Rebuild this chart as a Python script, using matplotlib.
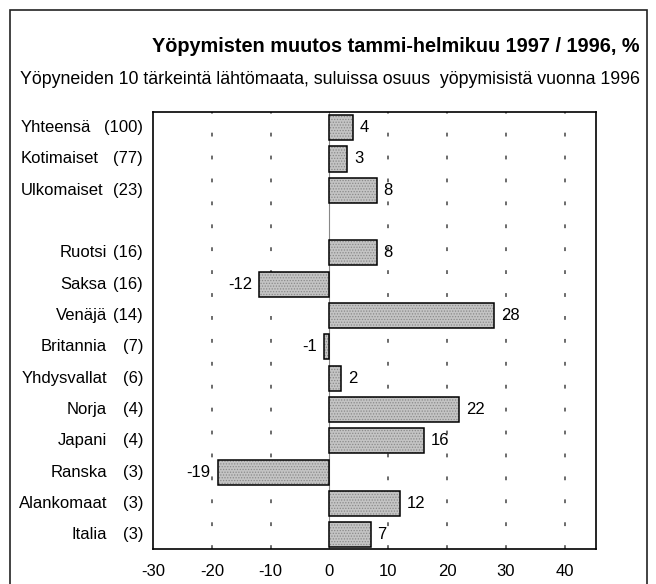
import numpy as np
import matplotlib
matplotlib.use('Agg')
from matplotlib import pyplot as plt
from matplotlib import transforms
from matplotlib.patches import Rectangle

# data
top_names = ['Yhteensä', 'Kotimaiset', 'Ulkomaiset']
top_shares = ['(100)', '(77)', '(23)']
top_values = [4, 3, 8]

country_names = ['Ruotsi', 'Saksa', 'Venäjä', 'Britannia', 'Yhdysvallat',
                 'Norja', 'Japani', 'Ranska', 'Alankomaat', 'Italia']
country_shares = ['(16)', '(16)', '(14)', '(7)', '(6)', '(4)', '(4)', '(3)', '(3)', '(3)']
country_values = [8, -12, 28, -1, 2, 22, 16, -19, 12, 7]

x_ticks = [-30, -20, -10, 0, 10, 20, 30, 40]

plt.rcParams['font.family'] = ['Liberation Sans', 'DejaVu Sans']
plt.rcParams['hatch.linewidth'] = 0.6
fs = 12

fig = plt.figure(figsize=(6.56, 5.84), dpi=100)
ax = fig.add_axes([153 / 656, 1 - 549 / 584, (596 - 153) / 656, (549 - 112) / 584])

y_top = np.arange(len(top_names))
y_cnt = np.arange(len(country_names)) + len(top_names) + 1
ys = np.concatenate([y_top, y_cnt])
vals = top_values + country_values

# dotted guide lines
for gx in [-20, -10, 10, 20, 30, 40]:
    ax.axvline(gx, color='#444444', lw=1.1, dashes=(2.5, 12.5), zorder=0)
ax.axvline(0, color='#888888', lw=0.8, zorder=1)

ax.barh(ys, vals, height=0.8, color='#c4c4c4', edgecolor='none', zorder=2)
ax.barh(ys, vals, height=0.8, fill=False, edgecolor='#8a8a8a', lw=0, hatch='......', zorder=3)
ax.barh(ys, vals, height=0.8, fill=False, edgecolor='black', lw=1.1, zorder=4)

for y, v in zip(ys, vals):
    if v >= 0:
        ax.annotate(str(v), (v, y), xytext=(5, 0), textcoords='offset points',
                    ha='left', va='center', fontsize=fs)
    else:
        ax.annotate(str(v), (v, y), xytext=(-5, 0), textcoords='offset points',
                    ha='right', va='center', fontsize=fs)

ax.set_xlim(-30, 45.3)
ax.set_ylim(13.45, -0.5)
ax.set_xticks(x_ticks)
ax.set_xticklabels([str(t) for t in x_ticks], fontsize=fs)
ax.tick_params(axis='x', length=0, pad=11)
ax.set_yticks([])
for s in ax.spines.values():
    s.set_linewidth(1.2)

# row labels
tr = transforms.blended_transform_factory(fig.transFigure, ax.transData)
for y, n, s in zip(y_top, top_names, top_shares):
    ax.text(21 / 656, y, n, transform=tr, ha='left', va='center', fontsize=fs)
    ax.text(143 / 656, y, s, transform=tr, ha='right', va='center', fontsize=fs)
for y, n, s in zip(y_cnt, country_names, country_shares):
    ax.text(107 / 656, y, n, transform=tr, ha='right', va='center', fontsize=fs)
    ax.text(143 / 656, y, s, transform=tr, ha='right', va='center', fontsize=fs)

fig.text(640 / 656, 1 - 47 / 584, 'Yöpymisten muutos tammi-helmikuu 1997 / 1996, %',
         ha='right', va='center', fontsize=14.3, fontweight='bold')
fig.text(640 / 656, 1 - 80 / 584,
         'Yöpyneiden 10 tärkeintä lähtömaata, suluissa osuus  yöpymisistä vuonna 1996',
         ha='right', va='center', fontsize=12.8)

# outer frame
fig.add_artist(Rectangle((10 / 656, -0.02), (647 - 10) / 656, 1.02 - 10 / 584,
                         transform=fig.transFigure, fill=False, lw=1.2,
                         edgecolor='#222222', clip_on=False))

fig.savefig('out.png', dpi=100)
